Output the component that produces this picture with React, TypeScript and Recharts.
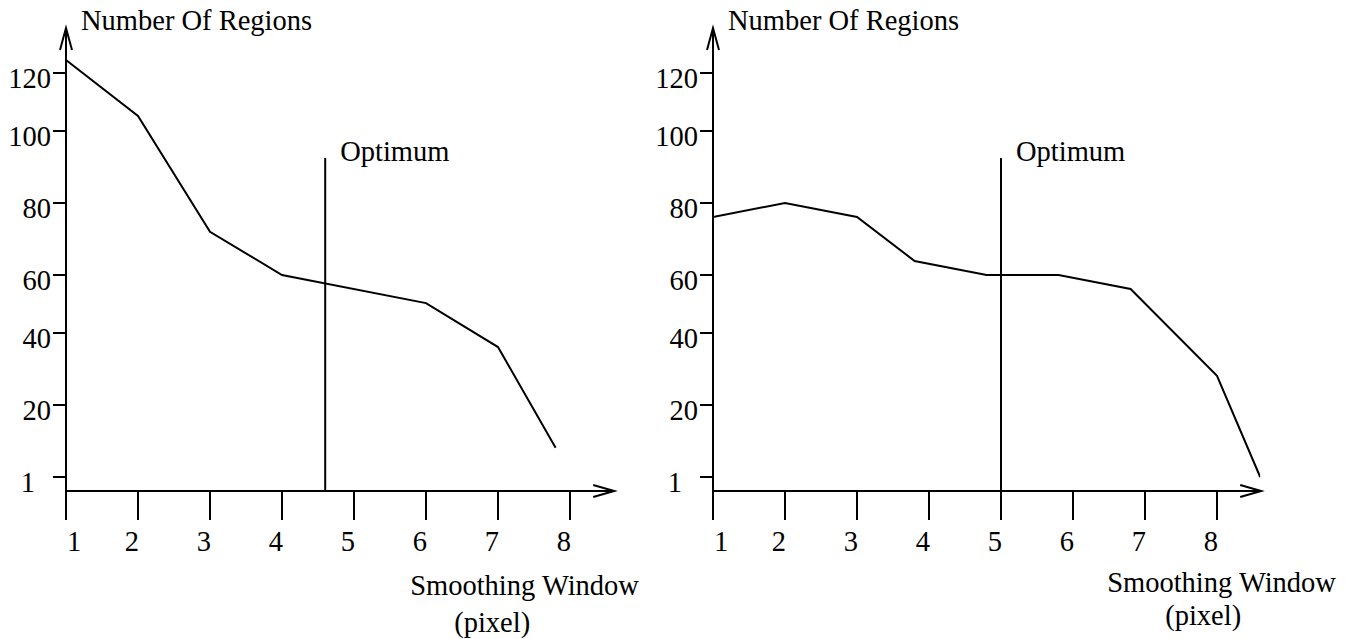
import React from 'react';
import { LineChart, Line, XAxis, YAxis, ReferenceLine, ReferenceDot } from 'recharts';

// ---- data ----
const windowTicks = [1, 2, 3, 4, 5, 6, 7, 8];
const regionTicks = [1, 20, 40, 60, 80, 100, 120];

const leftWindow = [1, 2, 3, 4, 6, 7, 7.8];
const leftRegions = [124.5, 105.2, 72, 60, 50.3, 36.1, 8.7];

const rightWindow = [1, 2, 3, 3.8, 4.8, 5.8, 6.8, 8, 8.6];
const rightRegions = [76.1, 80, 76.1, 63.9, 60, 60, 55.2, 28.1, 1];

const optimumLeft = 4.6;
const optimumRight = 5;
const optimumTop = 92.5;

const yTitle = 'Number Of Regions';
const xTitle = 'Smoothing Window';
const xUnit = '(pixel)';
const optimumLabel = 'Optimum';

// ---- axis layout ----
const X_DOMAIN: [number, number] = [1, 8.6];
const Y_MIN = -3;
const Y_MAX = 135;
// the hand-drawn value axis: the tick marks are not evenly spaced
const Y_KNOT_VALUES = [Y_MIN, 1, 20, 40, 60, 80, 100, 120, Y_MAX];
const Y_KNOT_PIXELS = [491, 477, 405, 333, 275, 203, 131, 73, 30];

const FONT = "'Liberation Serif', 'Times New Roman', serif";
const FS = 28.5;
const H = 639;
const PLOT_W = 547.2;
const Y_AXIS_W = 60;

function makeHandScale(): any {
  const bottom = Y_KNOT_PIXELS[0];
  const top = Y_KNOT_PIXELS[Y_KNOT_PIXELS.length - 1];
  const fr = Y_KNOT_PIXELS.map((p) => (bottom - p) / (bottom - top));
  let dom: number[] = [Y_MIN, Y_MAX];
  let rng: number[] = [1, 0];
  const frac = (v: number) => {
    const n = Y_KNOT_VALUES.length;
    let i = 0;
    if (v <= Y_KNOT_VALUES[0]) i = 0;
    else if (v >= Y_KNOT_VALUES[n - 1]) i = n - 2;
    else {
      while (i < n - 2 && v > Y_KNOT_VALUES[i + 1]) i++;
    }
    const v0 = Y_KNOT_VALUES[i];
    const v1 = Y_KNOT_VALUES[i + 1];
    return fr[i] + ((v - v0) / (v1 - v0)) * (fr[i + 1] - fr[i]);
  };
  const s: any = (v: any) => {
    const n = Number(v);
    if (!Number.isFinite(n)) return undefined;
    return rng[0] + frac(n) * (rng[1] - rng[0]);
  };
  s.domain = (d?: any) => {
    if (d === undefined) return dom.slice();
    dom = Array.from(d as number[]);
    return s;
  };
  s.range = (r?: any) => {
    if (r === undefined) return rng.slice();
    rng = Array.from(r as number[]);
    return s;
  };
  s.copy = () => {
    const c = makeHandScale();
    c.domain(dom);
    c.range(rng);
    return c;
  };
  s.ticks = () => regionTicks.slice();
  return s;
}

const handScale = makeHandScale();

const XTick = (props: any) => {
  const { x, y, payload } = props;
  const first = payload.value === windowTicks[0];
  return (
    <text
      x={x + 1}
      y={y + 29}
      textAnchor={first ? 'start' : 'end'}
      fontFamily={FONT}
      fontSize={FS}
      fill="#000"
    >
      {payload.value}
    </text>
  );
};

const YTick = (props: any) => {
  const { x, y, payload } = props;
  const shift = payload.value === regionTicks[0] ? 16 : 0;
  return (
    <text x={x - shift} y={y + 15} textAnchor="end" fontFamily={FONT} fontSize={FS} fill="#000">
      {payload.value}
    </text>
  );
};

type PanelProps = {
  xs: number[];
  ys: number[];
  optimum: number;
  width: number;
  axisLeft: number;
  titleDx: number;
  titleDy: number;
  unitDx: number;
  unitDy: number;
};

function Panel({ xs, ys, optimum, width, axisLeft, titleDx, titleDy, unitDx, unitDy }: PanelProps) {
  const data = xs.map((x, i) => ({ window: x, regions: ys[i] }));
  const margin = {
    top: Y_KNOT_PIXELS[Y_KNOT_PIXELS.length - 1],
    left: axisLeft - Y_AXIS_W,
    right: width - axisLeft - PLOT_W,
    bottom: H - Y_KNOT_PIXELS[0] - 100,
  };
  return (
    <LineChart width={width} height={H} data={data} margin={margin} style={{ overflow: 'visible' }}>
      <XAxis
        dataKey="window"
        type="number"
        domain={X_DOMAIN}
        ticks={windowTicks}
        interval={0}
        allowDataOverflow
        height={100}
        tickSize={29}
        tickMargin={2}
        axisLine={{ stroke: '#000', strokeWidth: 2 }}
        tickLine={{ stroke: '#000', strokeWidth: 2 }}
        tick={(p: any) => <XTick {...p} />}
      />
      <YAxis
        type="number"
        domain={[Y_MIN, Y_MAX]}
        scale={handScale}
        ticks={regionTicks}
        interval={0}
        allowDataOverflow
        width={Y_AXIS_W}
        tickSize={13}
        tickMargin={2}
        axisLine={{ stroke: '#000', strokeWidth: 2 }}
        tickLine={{ stroke: '#000', strokeWidth: 2 }}
        tick={(p: any) => <YTick {...p} />}
      />
      <ReferenceLine
        segment={[
          { x: optimum, y: Y_MIN },
          { x: optimum, y: optimumTop },
        ]}
        stroke="#000"
        strokeWidth={2}
        ifOverflow="visible"
      />
      <ReferenceDot
        x={optimum}
        y={optimumTop}
        r={0}
        ifOverflow="visible"
        shape={(p: any) => (
          <text x={p.cx + 15} y={p.cy + 3} fontFamily={FONT} fontSize={FS} fill="#000">
            {optimumLabel}
          </text>
        )}
      />
      <ReferenceDot
        x={X_DOMAIN[0]}
        y={Y_MAX}
        r={0}
        ifOverflow="visible"
        shape={(p: any) => (
          <g>
            <path
              d={`M${p.cx - 6},${p.cy + 20} L${p.cx},${p.cy - 2} L${p.cx + 6},${p.cy + 20}`}
              fill="none"
              stroke="#000"
              strokeWidth={2}
            />
            <text x={p.cx + 15} y={p.cy} fontFamily={FONT} fontSize={FS} fill="#000">
              {yTitle}
            </text>
          </g>
        )}
      />
      <ReferenceDot
        x={X_DOMAIN[1]}
        y={Y_MIN}
        r={0}
        ifOverflow="visible"
        shape={(p: any) => (
          <g>
            <path
              d={`M${p.cx - 20},${p.cy - 6} L${p.cx + 1},${p.cy} L${p.cx - 20},${p.cy + 6}`}
              fill="none"
              stroke="#000"
              strokeWidth={2}
            />
            <text x={p.cx - titleDx} y={p.cy + titleDy} fontFamily={FONT} fontSize={FS} fill="#000">
              {xTitle}
            </text>
            <text
              x={p.cx - unitDx}
              y={p.cy + unitDy}
              textAnchor="middle"
              fontFamily={FONT}
              fontSize={FS}
              fill="#000"
            >
              {xUnit}
            </text>
          </g>
        )}
      />
      <Line
        type="linear"
        dataKey="regions"
        stroke="#000"
        strokeWidth={2}
        dot={false}
        isAnimationActive={false}
      />
    </LineChart>
  );
}

export default function App() {
  return (
    <div style={{ position: 'absolute', left: 0, top: 0, width: 1350, height: H, background: '#fff' }}>
      <div style={{ position: 'absolute', left: 0, top: 0 }}>
        <Panel
          xs={leftWindow}
          ys={leftRegions}
          optimum={optimumLeft}
          width={640}
          axisLeft={66}
          titleDx={203}
          titleDy={104}
          unitDx={121}
          unitDy={141}
        />
      </div>
      <div style={{ position: 'absolute', left: 640, top: 0 }}>
        <Panel
          xs={rightWindow}
          ys={rightRegions}
          optimum={optimumRight}
          width={710}
          axisLeft={73}
          titleDx={153}
          titleDy={101}
          unitDx={57}
          unitDy={134}
        />
      </div>
    </div>
  );
}
